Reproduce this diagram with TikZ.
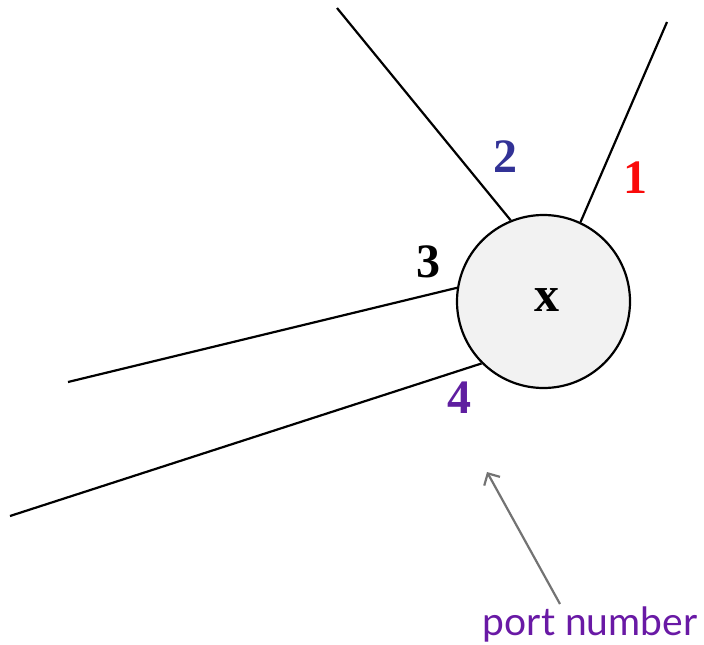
\documentclass[tikz,border=0pt]{standalone}
\usepackage{fontspec}
\setmainfont{Liberation Serif}
\newfontfamily\labelsans{Lato}
\newfontfamily\labelserif{Liberation Serif}
\definecolor{portred}{RGB}{250,10,10}
\definecolor{portblue}{RGB}{50,50,150}
\definecolor{portpurple}{RGB}{95,30,160}
\definecolor{notepurple}{RGB}{105,25,165}
\definecolor{nodefill}{RGB}{242,242,242}
\usetikzlibrary{arrows.meta}
\begin{document}
\begin{tikzpicture}[x=1pt,y=-1pt,
  edge/.style={line width=2.2pt,black},
  portlabel/.style={font=\labelserif\fontsize{48}{48}\selectfont\bfseries},
  vertex/.style={circle,draw,line width=2.2pt,fill=nodefill,minimum size=173pt,inner sep=0pt,font=\labelserif\fontsize{50}{50}\selectfont\bfseries},
  pointer/.style={line width=2.2pt,gray!90!black,-{Straight Barb[length=9pt,width=18pt,line width=2.2pt]}}]
\useasboundingbox (0,0) rectangle (704,645);
\node[vertex] (x) at (543.5,301.5) {};
\node[font=\labelserif\fontsize{50}{50}\selectfont\bfseries] (xl) at (547,300) {x};
\coordinate (e1) at (667,22);
\coordinate (e2) at (337,8);
\coordinate (e3) at (68,382);
\coordinate (e4) at (10,516);
\draw[edge] (e1) -- (x.65);
\draw[edge] (e2) -- (x.112);
\draw[edge] (e3) -- (x.171.5);
\draw[edge] (e4) -- (x.225);
\node[portlabel,text=portred] (l1) at (635,178) {1};
\node[portlabel,text=portblue] (l2) at (505,157) {2};
\node[portlabel,text=black] (l3) at (428,262) {3};
\node[portlabel,text=portpurple] (l4) at (459,398) {4};
\node[font=\labelsans\fontsize{39}{39}\selectfont,text=notepurple] (note) at (590,624) {port number};
\coordinate (tip) at (487,472);
\draw[pointer] (560,604) -- (tip);
\end{tikzpicture}
\end{document}
